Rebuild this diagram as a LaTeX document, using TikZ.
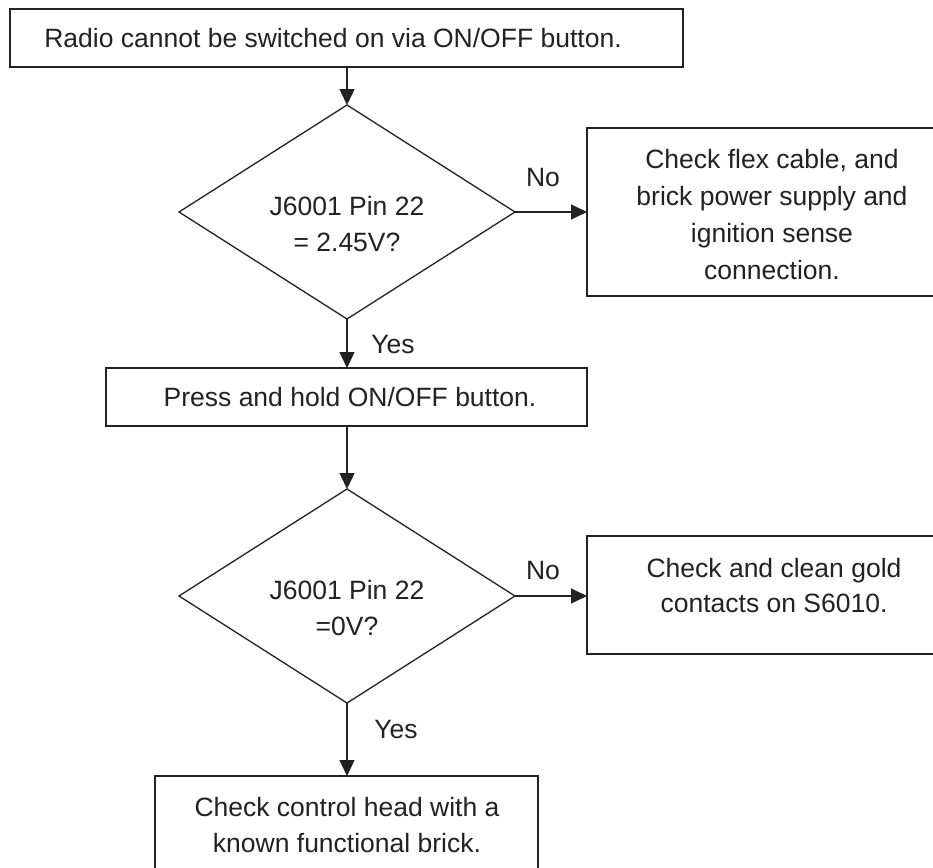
\documentclass[tikz,border=0pt]{standalone}
\usepackage{fontspec}
\setmainfont{Liberation Sans}
\usetikzlibrary{shapes.geometric,arrows.meta}
\definecolor{ink}{HTML}{222222}
\begin{document}
\begin{tikzpicture}[x=1pt,y=-1pt,
  every node/.style={font=\fontsize{26.5}{36}\selectfont, text=ink},
  box/.style={draw=ink, line width=1.3pt, rectangle, inner sep=0pt, outer sep=0pt},
  decision/.style={draw=ink, line width=1.3pt, diamond, minimum width=336pt, minimum height=214pt, inner sep=0pt, outer sep=0pt},
  txt/.style={align=center, inner sep=0pt},
  lbl/.style={anchor=base, inner sep=0pt},
  conn/.style={draw=ink, line width=1.3pt, -{Triangle[length=16pt,width=15pt]}}]
\clip (0,0) rectangle (933,867);
\fill[white] (0,0) rectangle (933,867);

\node[box, minimum width=673pt, minimum height=58pt] (top) at (346.5,38) {};
\node[txt] (topt) at (333,38.5) {Radio cannot be switched on via ON/OFF button.};

\node[decision] (d1) at (347,212) {};
\node[txt] (d1t) at (347,224.5) {J6001 Pin 22\\= 2.45V?};

\node[box, minimum width=348pt, minimum height=168pt] (r1) at (761,212) {};
\node[txt, font=\fontsize{26.5}{37}\selectfont] (r1t) at (772,214.5) {Check flex cable, and\\brick power supply and\\ignition sense\\connection.};

\node[box, minimum width=481pt, minimum height=58pt] (box2) at (346.5,397) {};
\node[txt] (box2t) at (350,397.5) {Press and hold ON/OFF button.};

\node[decision] (d2) at (347,596) {};
\node[txt] (d2t) at (347,608.5) {J6001 Pin 22\\=0V?};

\node[box, minimum width=348pt, minimum height=118pt] (r2) at (761,595) {};
\node[txt, font=\fontsize{26.5}{35}\selectfont] (r2t) at (774,586) {Check and clean gold\\contacts on S6010.};

\node[box, minimum width=383pt, minimum height=124pt] (bot) at (346.5,838) {};
\node[txt] (bott) at (347,825.5) {Check control head with a\\known functional brick.};

\node[lbl] (no1) at (543,186) {No};
\node[lbl] (yes1) at (393,353) {Yes};
\node[lbl] (no2) at (543,579) {No};
\node[lbl] (yes2) at (396,738) {Yes};

\draw[conn] (top.south -| d1.north) -- (d1.north);
\draw[conn] (d1.east) -- (r1.west);
\draw[conn] (d1.south) -- (d1.south |- box2.north);
\draw[conn] (box2.south -| d2.north) -- (d2.north);
\draw[conn] (d2.east) -- (d2.east -| r2.west);
\draw[conn] (d2.south) -- (d2.south |- bot.north);
\end{tikzpicture}
\end{document}
